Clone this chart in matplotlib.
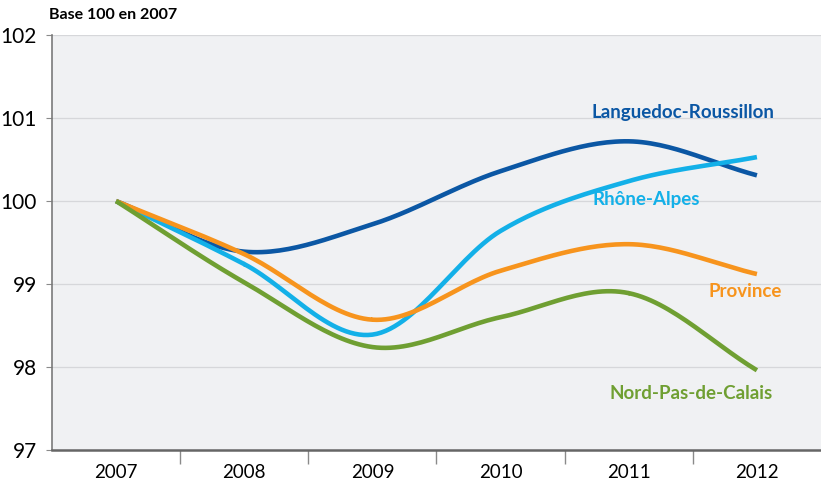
import numpy as np
import matplotlib
matplotlib.use("Agg")
import matplotlib.pyplot as plt

years = ["2007", "2008", "2009", "2010", "2011", "2012"]
languedoc = [100.0, 99.39, 99.72, 100.36, 100.72, 100.31]
rhone = [100.0, 99.24, 98.39, 99.64, 100.24, 100.53]
province = [100.0, 99.36, 98.57, 99.16, 99.48, 99.12]
nord = [100.0, 99.02, 98.24, 98.60, 98.89, 97.96]

series = [
    ("Languedoc-Roussillon", languedoc, "#0b57a4"),
    ("Rhône-Alpes", rhone, "#13b0e8"),
    ("Province", province, "#f7941d"),
    ("Nord-Pas-de-Calais", nord, "#6f9f32"),
]

def smooth(x, y, n=30):
    x = np.asarray(x, float); y = np.asarray(y, float)
    px = np.concatenate([[2*x[0]-x[1]], x, [2*x[-1]-x[-2]]])
    py = np.concatenate([[2*y[0]-y[1]], y, [2*y[-1]-y[-2]]])
    xs, ys = [], []
    t = np.linspace(0, 1, n)
    for i in range(1, len(px)-2):
        p0, p1, p2, p3 = py[i-1], py[i], py[i+1], py[i+2]
        q0, q1, q2, q3 = px[i-1], px[i], px[i+1], px[i+2]
        def cr(a0, a1, a2, a3):
            return 0.5*((2*a1) + (-a0+a2)*t + (2*a0-5*a1+4*a2-a3)*t**2 + (-a0+3*a1-3*a2+a3)*t**3)
        xs.append(cr(q0, q1, q2, q3)); ys.append(cr(p0, p1, p2, p3))
    return np.concatenate(xs), np.concatenate(ys)

plt.rcParams['font.family'] = ['Lato', 'DejaVu Sans']

fig = plt.figure(figsize=(8.21, 4.88), dpi=100)
ax = fig.add_axes([0.0633, 0.078, 0.9367, 0.85])
ax.set_facecolor("#f0f1f3")

x = np.arange(len(years))
for name, vals, col in series:
    sx, sy = smooth(x, vals)
    ax.plot(sx, sy, color=col, lw=3.3, solid_capstyle='butt', zorder=3)

ax.set_xlim(-0.5, 5.5)
ax.set_ylim(97, 102)
ax.set_yticks([97, 98, 99, 100, 101, 102])
ax.set_yticklabels(["97", "98", "99", "100", "101", "102"], fontsize=15)
ax.yaxis.grid(True, color="#d6d7da", lw=0.9)
ax.set_axisbelow(True)

ax.set_xticks(x)
ax.set_xticklabels(years, fontsize=13.5)
ax.tick_params(axis='x', length=0, pad=10)
ax.set_xticks(np.arange(0.5, 5.0, 1.0), minor=True)
ax.tick_params(axis='x', which='minor', length=10, color="#8a8a8a", width=1)
ax.tick_params(axis='y', length=4, color="#8a8a8a", pad=7)

for s in ["top", "right"]:
    ax.spines[s].set_visible(False)
ax.spines["left"].set_color("#7a7a7a")
ax.spines["bottom"].set_color("#666666")
ax.spines["bottom"].set_linewidth(1.8)
ax.spines["left"].set_linewidth(1.2)

fig.text(0.06, 0.969, "Base 100 en 2007", fontsize=11.5, fontweight='bold', va='center', ha='left')

fs = 13.5
ax.text(4.42, 101.0, "Languedoc-Roussillon", color="#0b57a4", fontsize=fs, fontweight='bold', ha='center')
ax.text(4.14, 99.95, "Rhône-Alpes", color="#13b0e8", fontsize=fs, fontweight='bold', ha='center')
ax.text(4.91, 98.84, "Province", color="#f7941d", fontsize=fs, fontweight='bold', ha='center')
ax.text(4.49, 97.62, "Nord-Pas-de-Calais", color="#6f9f32", fontsize=fs, fontweight='bold', ha='center')

fig.savefig("out.png", dpi=100)
